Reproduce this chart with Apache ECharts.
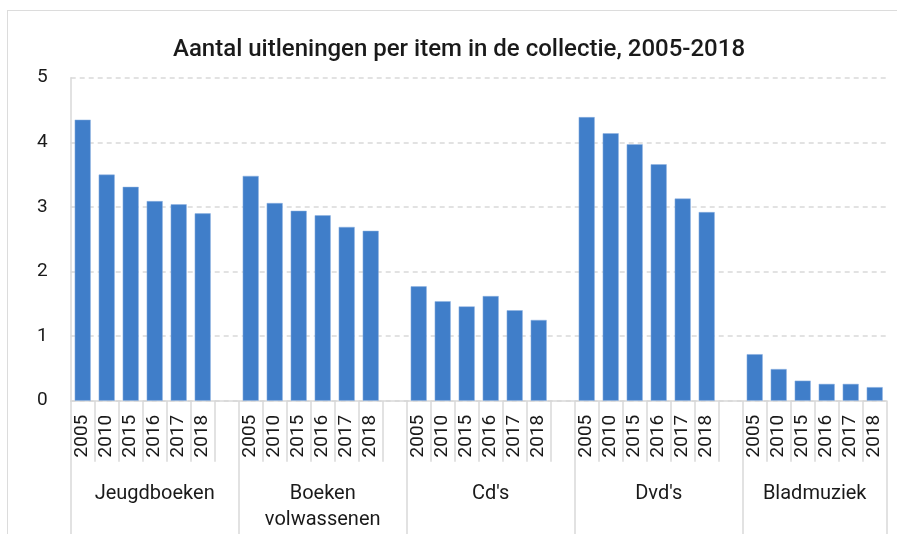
<!DOCTYPE html>
<html>
<head>
<meta charset="utf-8">
<script src="https://cdn.jsdelivr.net/npm/echarts@6/dist/echarts.min.js"></script>
<style>
html,body{margin:0;padding:0;background:#fff;}
#frame{position:absolute;left:7px;top:10px;width:900px;height:540px;border-left:1px solid #dcdcdc;border-top:1px solid #dcdcdc;}
#chart{position:absolute;left:0;top:0;width:897px;height:534px;}
</style>
</head>
<body>
<div id="frame"></div>
<div id="chart"></div>
<script>
var title = 'Aantal uitleningen per item in de collectie, 2005-2018';
var groups = ['Jeugdboeken', 'Boeken\nvolwassenen', "Cd's", "Dvd's", 'Bladmuziek'];
var years = ['2005', '2010', '2015', '2016', '2017', '2018'];
var jeugdboeken = [4.35, 3.50, 3.31, 3.09, 3.04, 2.90];
var boekenVolwassenen = [3.48, 3.06, 2.94, 2.87, 2.69, 2.63];
var cds = [1.77, 1.54, 1.46, 1.62, 1.40, 1.25];
var dvds = [4.39, 4.14, 3.97, 3.66, 3.13, 2.92];
var bladmuziek = [0.72, 0.49, 0.31, 0.26, 0.26, 0.21];
var yTicks = [0, 1, 2, 3, 4, 5];

var seriesByGroup = [jeugdboeken, boekenVolwassenen, cds, dvds, bladmuziek];

// Build slot categories: each group = 6 years + 1 empty gap slot (except after last)
var slotCats = [], slotVals = [];
seriesByGroup.forEach(function (vals, g) {
  years.forEach(function (y, i) { slotCats.push(y); slotVals.push(vals[i]); });
  if (g < seriesByGroup.length - 1) { slotCats.push(' '); slotVals.push(null); }
});
var nSlots = slotCats.length; // 34

// Group axis: half-slot resolution, boundaryGap false -> 2*nSlots+1 points
var groupStartsHalf = [], groupCentersHalf = [];
var pos = 0;
seriesByGroup.forEach(function (vals, g) {
  var span = years.length + (g < seriesByGroup.length - 1 ? 1 : 0);
  groupStartsHalf.push(pos * 2);
  groupCentersHalf.push(pos * 2 + span);
  pos += span;
});
groupStartsHalf.push(nSlots * 2);
var groupCats = [];
for (var i = 0; i <= nSlots * 2; i++) {
  var gi = groupCentersHalf.indexOf(i);
  groupCats.push(gi >= 0 ? groups[gi] : '');
}

var textColor = '#1a1a1a';
var lineColor = '#d9d9d9';
var font = 'Roboto, "DejaVu Sans", sans-serif';

var chart = echarts.init(document.getElementById('chart'), null, {renderer: 'canvas'});
chart.setOption({
  animation: false,
  backgroundColor: 'transparent',
  title: {
    text: title, left: 168, top: 33,
    textStyle: {fontFamily: font, fontSize: 24, fontWeight: 500, color: textColor}
  },
  grid: {left: 70.7, right: 10.3, top: 77.7, bottom: 133.3, containLabel: false},
  xAxis: [{
    type: 'category', data: slotCats, position: 'bottom',
    axisLine: {show: true, lineStyle: {color: lineColor, width: 1.5}},
    axisTick: {show: true, interval: 0, length: 61, lineStyle: {color: lineColor, width: 1.5}},
    axisLabel: {interval: 0, rotate: 90, margin: 14, fontFamily: font, fontSize: 19, color: textColor},
    splitLine: {show: false}
  }, {
    type: 'category', data: groupCats, position: 'bottom', boundaryGap: false,
    axisLine: {show: false},
    axisTick: {show: true, length: 134, lineStyle: {color: lineColor, width: 1.5},
      interval: function (idx) { return groupStartsHalf.indexOf(idx) >= 0; }},
    axisLabel: {interval: 0, margin: 80, fontFamily: font, fontSize: 20, color: textColor, lineHeight: 26},
    splitLine: {show: false}
  }],
  yAxis: {
    type: 'value', min: yTicks[0], max: yTicks[yTicks.length - 1], interval: 1,
    axisLine: {show: true, lineStyle: {color: lineColor, width: 1.5}},
    axisTick: {show: false},
    axisLabel: {margin: 23, fontFamily: font, fontSize: 19, color: textColor},
    splitLine: {show: true, lineStyle: {color: lineColor, type: [5, 4], width: 1.5}}
  },
  series: [{
    type: 'bar', xAxisIndex: 0, data: slotVals,
    barWidth: 16,
    itemStyle: {color: '#407EC9', borderColor: '#8fb2e0', borderWidth: 0.5}
  }]
});
</script>
</body>
</html>
